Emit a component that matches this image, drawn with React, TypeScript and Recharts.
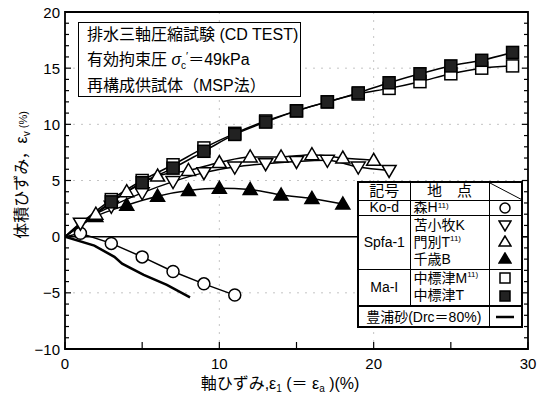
import { LineChart, Line, XAxis, YAxis, CartesianGrid, ReferenceLine, ReferenceArea } from 'recharts'

// 軸ひずみ ε1 (%) と 体積ひずみ εv (%) を写真から読み取り
const strainToyoura = [0, 1.9, 3.2, 3.7, 5.1, 6.6, 8.1]
const volToyoura = [0, -0.8, -1.8, -2.4, -3.4, -4.3, -5.4]

const strainMoriH = [0, 1, 3, 5, 7, 9, 11]
const volMoriH = [0, 0.3, -0.6, -1.8, -3.1, -4.2, -5.2]

const strainChitoseB = [0, 2, 4, 6, 8, 10, 12, 14, 16, 18]
const volChitoseB = [0, 1.8, 2.8, 3.6, 4.1, 4.3, 4.2, 3.7, 3.4, 2.9]

const strainTomakomaiK = [0, 1, 3, 5, 7, 9, 11, 13, 15, 17, 19, 21]
const volTomakomaiK = [0, 1.2, 2.7, 3.9, 4.9, 5.7, 6.2, 6.5, 6.7, 6.8, 6.2, 5.9]

const strainMonbetsuT = [0, 2, 4, 6, 8, 10, 12, 14, 16, 18, 20]
const volMonbetsuT = [0, 2.0, 4.0, 5.4, 5.9, 6.6, 7.1, 7.1, 7.3, 7.0, 6.8]

const strainNakashibetsuM = [0, 3, 5, 7, 9, 11, 13, 15, 17, 19, 21, 23, 25, 27, 29]
const volNakashibetsuM = [0, 3.3, 5.0, 6.4, 7.9, 9.2, 10.3, 11.2, 12.0, 12.7, 13.2, 13.8, 14.5, 15.0, 15.2]

const strainNakashibetsuT = [0, 3, 5, 7, 9, 11, 13, 15, 17, 19, 21, 23, 25, 27, 29]
const volNakashibetsuT = [0, 3.1, 4.8, 6.1, 7.6, 9.1, 10.2, 11.2, 12.0, 12.8, 13.7, 14.5, 15.2, 15.7, 16.4]

const xTicks = [0, 5, 10, 15, 20, 25, 30]
const yTicks = Array.from({ length: 31 }, (_, i) => i - 10)

const W = 540
const H = 405
const Y_AXIS_W = 65
const X_AXIS_H = 56
const MARGIN = { top: 12, right: 12, left: 0, bottom: 0 }
const PLOT_W = W - Y_AXIS_W - MARGIN.right
const FONT = "'Liberation Sans', 'Noto Sans CJK JP', sans-serif"

function pts(xs: number[], ys: number[]) {
  return xs.map((x, i) => ({ x, y: ys[i] }))
}

function shape(kind: string, cx: number, cy: number, r = 6) {
  const sw = 1.5
  switch (kind) {
    case 'circle':
      return <circle cx={cx} cy={cy} r={r} fill="#fff" stroke="#000" strokeWidth={sw} />
    case 'sqOpen':
      return <rect x={cx - r} y={cy - r} width={r * 2} height={r * 2} fill="#fff" stroke="#000" strokeWidth={sw} />
    case 'sqFill':
      return <rect x={cx - r} y={cy - r} width={r * 2} height={r * 2} fill="#222" stroke="#000" strokeWidth={sw} />
    case 'triUp':
    case 'triFill':
      return (
        <polygon
          points={`${cx},${cy - r - 1} ${cx - r - 1},${cy + r - 1} ${cx + r + 1},${cy + r - 1}`}
          fill={kind === 'triFill' ? '#000' : '#fff'}
          stroke="#000"
          strokeWidth={sw}
        />
      )
    case 'triDown':
      return (
        <polygon
          points={`${cx - r - 1},${cy - r + 1} ${cx + r + 1},${cy - r + 1} ${cx},${cy + r + 1}`}
          fill="#fff"
          stroke="#000"
          strokeWidth={sw}
        />
      )
    default:
      return null
  }
}

const makeDot = (kind: string) => (props: any) => {
  const { cx, cy, index } = props
  if (index === 0 || cx == null || cy == null) return <g key={`${kind}-${index}`} />
  return <g key={`${kind}-${index}`}>{shape(kind, cx, cy)}</g>
}

function Icon({ kind }: { kind: string }) {
  if (kind === 'line') {
    return (
      <svg width={22} height={12}>
        <line x1={2} y1={6} x2={20} y2={6} stroke="#000" strokeWidth={2.5} />
      </svg>
    )
  }
  return (
    <svg width={14} height={14} style={{ display: 'block' }}>
      {shape(kind, 7, 7, 5)}
    </svg>
  )
}

function YTick(props: any) {
  const { x, y, payload } = props
  const v = payload.value as number
  const major = v % 5 === 0
  const len = major ? 6 : 4
  return (
    <g>
      <line x1={x} y1={y} x2={x + len} y2={y} stroke="#000" strokeWidth={1.2} />
      <line x1={x + PLOT_W} y1={y} x2={x + PLOT_W - len} y2={y} stroke="#000" strokeWidth={1.2} />
      {major && (
        <text x={x - 5} y={y} textAnchor="end" dominantBaseline="central" fontSize={15} fontFamily={FONT} fill="#000">
          {v < 0 ? `−${Math.abs(v)}` : v}
        </text>
      )}
    </g>
  )
}

function XTick(props: any) {
  const { x, y, payload } = props
  const v = payload.value as number
  return (
    <g>
      <line x1={x} y1={y} x2={x} y2={y - 7} stroke="#000" strokeWidth={1.2} />
      {v % 10 === 0 && (
        <text x={x} y={y + 20} textAnchor="middle" fontSize={15} fontFamily={FONT} fill="#000">
          {v}
        </text>
      )}
    </g>
  )
}

const cell: React.CSSProperties = { border: '1px solid #000', padding: 0, verticalAlign: 'middle' }
const sup: React.CSSProperties = { fontSize: 8, verticalAlign: 'top', lineHeight: '10px' }

function LegendTable() {
  return (
    <table
      style={{
        position: 'absolute',
        left: 357,
        top: 181,
        width: 164,
        height: 144,
        borderCollapse: 'collapse',
        tableLayout: 'fixed',
        background: '#fff',
        border: '2px solid #000',
        fontFamily: FONT,
        fontSize: 14,
        lineHeight: '16px',
        whiteSpace: 'nowrap',
      }}
    >
      <colgroup>
        <col style={{ width: 52 }} />
        <col style={{ width: 79 }} />
        <col style={{ width: 33 }} />
      </colgroup>
      <tbody>
        <tr style={{ height: 18 }}>
          <td style={{ ...cell, textAlign: 'center', fontSize: 15 }}>記号</td>
          <td style={{ ...cell, textAlign: 'center', fontSize: 15 }}>地　点</td>
          <td style={{ ...cell, position: 'relative' }}>
            <svg width="100%" height="100%" style={{ position: 'absolute', left: 0, top: 0 }}>
              <line x1="0" y1="0" x2="100%" y2="100%" stroke="#000" strokeWidth={1} />
            </svg>
          </td>
        </tr>
        <tr style={{ height: 14 }}>
          <td style={{ ...cell, textAlign: 'center', lineHeight: '13px' }}>Ko-d</td>
          <td style={{ ...cell, paddingLeft: 3, lineHeight: '13px' }}>
            森H<span style={sup}>11)</span>
          </td>
          <td style={cell}>
            <div style={{ display: 'flex', justifyContent: 'center' }}>
              <Icon kind="circle" />
            </div>
          </td>
        </tr>
        <tr style={{ height: 54 }}>
          <td style={{ ...cell, textAlign: 'center' }}>Spfa-1</td>
          <td style={{ ...cell, paddingLeft: 3, lineHeight: '17px' }}>
            苫小牧K<br />
            門別T<span style={sup}>11)</span>
            <br />
            千歳B
          </td>
          <td style={cell}>
            <div style={{ display: 'flex', flexDirection: 'column', alignItems: 'center', gap: 3 }}>
              <Icon kind="triDown" />
              <Icon kind="triUp" />
              <Icon kind="triFill" />
            </div>
          </td>
        </tr>
        <tr style={{ height: 37 }}>
          <td style={{ ...cell, textAlign: 'center' }}>Ma-I</td>
          <td style={{ ...cell, paddingLeft: 3, lineHeight: '17px' }}>
            中標津M<span style={sup}>11)</span>
            <br />
            中標津T
          </td>
          <td style={cell}>
            <div style={{ display: 'flex', flexDirection: 'column', alignItems: 'center', gap: 4 }}>
              <Icon kind="sqOpen" />
              <Icon kind="sqFill" />
            </div>
          </td>
        </tr>
        <tr style={{ height: 21 }}>
          <td colSpan={2} style={{ ...cell, borderTop: '2px solid #000', textAlign: 'center' }}>
            豊浦砂(Drc＝80%)
          </td>
          <td style={{ ...cell, borderTop: '2px solid #000' }}>
            <div style={{ display: 'flex', justifyContent: 'center' }}>
              <Icon kind="line" />
            </div>
          </td>
        </tr>
      </tbody>
    </table>
  )
}

export default function App() {
  return (
    <div style={{ position: 'absolute', left: 0, top: 0, width: W, height: H, background: '#fff' }}>
      <LineChart width={W} height={H} margin={MARGIN}>
        <CartesianGrid
          stroke="#c4c4c4"
          strokeDasharray="2 6"
          horizontalValues={[-5, 5, 10, 15]}
          verticalValues={[10, 20]}
        />
        <XAxis
          dataKey="x"
          type="number"
          domain={[0, 30]}
          ticks={xTicks}
          allowDataOverflow
          axisLine={false}
          tickLine={false}
          tickSize={0}
          tickMargin={0}
          height={X_AXIS_H}
          tick={<XTick />}
          interval={0}
        />
        <YAxis
          type="number"
          domain={[-10, 20]}
          ticks={yTicks}
          allowDataOverflow
          axisLine={false}
          tickLine={false}
          tickSize={0}
          tickMargin={0}
          width={Y_AXIS_W}
          tick={<YTick />}
          interval={0}
        />
        <ReferenceLine y={0} stroke="#000" strokeWidth={1.5} />
        <Line data={pts(strainToyoura, volToyoura)} dataKey="y" type="linear" stroke="#000" strokeWidth={2.5} dot={false} activeDot={false} isAnimationActive={false} />
        <Line data={pts(strainMoriH, volMoriH)} dataKey="y" type="linear" stroke="#000" strokeWidth={1.5} dot={makeDot('circle')} activeDot={false} isAnimationActive={false} />
        <Line data={pts(strainChitoseB, volChitoseB)} dataKey="y" type="monotone" stroke="#000" strokeWidth={1.5} dot={makeDot('triFill')} activeDot={false} isAnimationActive={false} />
        <Line data={pts(strainTomakomaiK, volTomakomaiK)} dataKey="y" type="monotone" stroke="#000" strokeWidth={1.5} dot={makeDot('triDown')} activeDot={false} isAnimationActive={false} />
        <Line data={pts(strainMonbetsuT, volMonbetsuT)} dataKey="y" type="monotone" stroke="#000" strokeWidth={1.5} dot={makeDot('triUp')} activeDot={false} isAnimationActive={false} />
        <Line data={pts(strainNakashibetsuM, volNakashibetsuM)} dataKey="y" type="monotone" stroke="#000" strokeWidth={1.5} dot={makeDot('sqOpen')} activeDot={false} isAnimationActive={false} />
        <Line data={pts(strainNakashibetsuT, volNakashibetsuT)} dataKey="y" type="monotone" stroke="#000" strokeWidth={1.5} dot={makeDot('sqFill')} activeDot={false} isAnimationActive={false} />
        <ReferenceArea x1={0} x2={30} y1={-10} y2={20} fill="none" stroke="#000" strokeWidth={1.8} ifOverflow="visible" />
      </LineChart>

      {/* 試験条件 */}
      <div
        style={{
          position: 'absolute',
          left: 78,
          top: 22,
          width: 223,
          height: 75,
          boxSizing: 'border-box',
          border: '1.5px solid #000',
          background: '#fff',
          padding: '0 0 0 8px',
          fontFamily: FONT,
          fontSize: 16,
          lineHeight: '24.5px',
          whiteSpace: 'nowrap',
        }}
      >
        <div>排水三軸圧縮試験 (CD TEST)</div>
        <div>
          有効拘束圧 <span style={{ fontStyle: 'italic' }}>σ</span>
          <span style={{ fontSize: 10, position: 'relative', top: 4 }}>c</span>
          <span style={{ fontSize: 11, position: 'relative', top: -5 }}>′</span>＝49kPa
        </div>
        <div>再構成供試体（MSP法）</div>
      </div>

      <LegendTable />

      {/* 軸ラベル */}
      <div
        style={{
          position: 'absolute',
          left: 22 - 110,
          top: 175 - 11,
          width: 220,
          height: 22,
          lineHeight: '22px',
          textAlign: 'center',
          transform: 'rotate(-90deg)',
          fontFamily: FONT,
          fontSize: 16,
          whiteSpace: 'nowrap',
        }}
      >
        体積ひずみ，ε<span style={{ fontSize: 10, position: 'relative', top: 3 }}>v</span>
        <span style={{ fontSize: 11 }}> (%)</span>
      </div>
      <div
        style={{
          position: 'absolute',
          left: 280 - 150,
          top: 373,
          width: 300,
          height: 22,
          lineHeight: '22px',
          textAlign: 'center',
          fontFamily: FONT,
          fontSize: 16,
          whiteSpace: 'nowrap',
        }}
      >
        軸ひずみ,ε<span style={{ fontSize: 10, position: 'relative', top: 3 }}>1</span> (＝ ε
        <span style={{ fontSize: 10, position: 'relative', top: 3 }}>a</span> )(%)
      </div>
    </div>
  )
}
